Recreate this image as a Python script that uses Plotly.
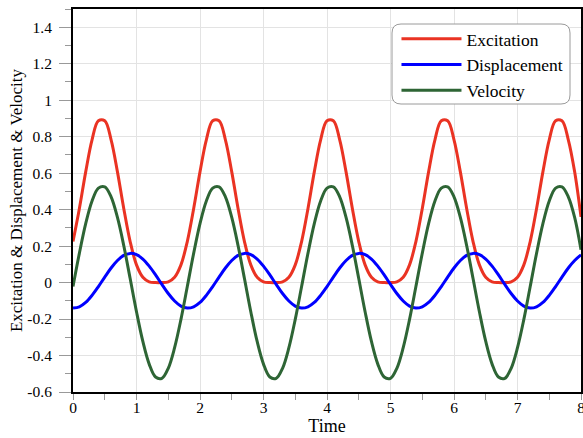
import plotly.graph_objects as go

time = [0.0, 0.1, 0.2, 0.3, 0.4, 0.5, 0.6, 0.7, 0.8, 0.9,
        1.0, 1.1, 1.2, 1.3, 1.4, 1.5, 1.6, 1.7, 1.8, 1.9,
        2.0, 2.1, 2.2, 2.3, 2.4, 2.5, 2.6, 2.7, 2.8, 2.9,
        3.0, 3.1, 3.2, 3.3, 3.4, 3.5, 3.6, 3.7, 3.8, 3.9,
        4.0, 4.1, 4.2, 4.3, 4.4, 4.5, 4.6, 4.7, 4.8, 4.9,
        5.0, 5.1, 5.2, 5.3, 5.4, 5.5, 5.6, 5.7, 5.8, 5.9,
        6.0, 6.1, 6.2, 6.3, 6.4, 6.5, 6.6, 6.7, 6.8, 6.9,
        7.0, 7.1, 7.2, 7.3, 7.4, 7.5, 7.6, 7.7, 7.8, 7.9, 8.0]

excitation = [
    0.225, 0.405, 0.607, 0.783, 0.887, 0.887, 0.783, 0.607, 0.405, 0.225, 0.097, 0.029, 0.004, 0.0, 0.0, 0.004, 0.029, 0.097,
    0.225, 0.405, 0.607, 0.783, 0.887, 0.887, 0.783, 0.607, 0.405, 0.225, 0.097, 0.029, 0.004, 0.0, 0.0, 0.004, 0.029, 0.097,
    0.225, 0.405, 0.607, 0.783, 0.887, 0.887, 0.783, 0.607, 0.405, 0.225, 0.097, 0.029, 0.004, 0.0, 0.0, 0.004, 0.029, 0.097,
    0.225, 0.405, 0.607, 0.783, 0.887, 0.887, 0.783, 0.607, 0.405, 0.225, 0.097, 0.029, 0.004, 0.0, 0.0, 0.004, 0.029, 0.097,
    0.225, 0.405, 0.607, 0.783, 0.887, 0.887, 0.783, 0.607, 0.36]

displacement = [
    -0.140, -0.133, -0.109, -0.070, -0.022, 0.030, 0.080, 0.121, 0.149, 0.160, 0.153, 0.129, 0.090, 0.042, -0.010, -0.060, -0.101, -0.129,
    -0.140, -0.133, -0.109, -0.070, -0.022, 0.030, 0.080, 0.121, 0.149, 0.160, 0.153, 0.129, 0.090, 0.042, -0.010, -0.060, -0.101, -0.129,
    -0.140, -0.133, -0.109, -0.070, -0.022, 0.030, 0.080, 0.121, 0.149, 0.160, 0.153, 0.129, 0.090, 0.042, -0.010, -0.060, -0.101, -0.129,
    -0.140, -0.133, -0.109, -0.070, -0.022, 0.030, 0.080, 0.121, 0.149, 0.160, 0.153, 0.129, 0.090, 0.042, -0.010, -0.060, -0.101, -0.129,
    -0.140, -0.133, -0.109, -0.070, -0.022, 0.030, 0.080, 0.121, 0.152]

velocity = [
    -0.022, 0.160, 0.323, 0.447, 0.518, 0.525, 0.470, 0.357, 0.202, 0.022, -0.160, -0.323, -0.447, -0.518, -0.525, -0.470, -0.357, -0.202,
    -0.022, 0.160, 0.323, 0.447, 0.518, 0.525, 0.470, 0.357, 0.202, 0.022, -0.160, -0.323, -0.447, -0.518, -0.525, -0.470, -0.357, -0.202,
    -0.022, 0.160, 0.323, 0.447, 0.518, 0.525, 0.470, 0.357, 0.202, 0.022, -0.160, -0.323, -0.447, -0.518, -0.525, -0.470, -0.357, -0.202,
    -0.022, 0.160, 0.323, 0.447, 0.518, 0.525, 0.470, 0.357, 0.202, 0.022, -0.160, -0.323, -0.447, -0.518, -0.525, -0.470, -0.357, -0.202,
    -0.022, 0.160, 0.323, 0.447, 0.518, 0.525, 0.470, 0.357, 0.18]

x_ticks = [0, 1, 2, 3, 4, 5, 6, 7, 8]
x_labels = ["0", "1", "2", "3", "4", "5", "6", "7", "8"]
y_ticks = [-0.6, -0.4, -0.2, 0, 0.2, 0.4, 0.6, 0.8, 1.0, 1.2, 1.4]
y_labels = ["-0.6", "-0.4", "-0.2", "0", "0.2", "0.4", "0.6", "0.8", "1", "1.2", "1.4"]

FONT = "Liberation Serif"

fig = go.Figure()
series = [("Excitation", excitation, "#ea3323"),
          ("Displacement", displacement, "#0000ff"),
          ("Velocity", velocity, "#2e6535")]
for name, vals, col in series:
    fig.add_trace(go.Scatter(x=time, y=vals, name=name, mode="lines",
                             line=dict(color=col, width=3, shape="spline", smoothing=1)))

# rounded legend box
W, H = 583, 438
L, R, T, B = 73, 2, 9, 46
pw, ph = W - L - R, H - T - B
bx0, bx1, by0, by1 = 392, 570, 24, 104
rad = 9
def px(xp):
    return (xp - L) / pw
def py(yp):
    return (H - B - yp) / ph
x0, x1 = px(bx0), px(bx1)
y0, y1 = py(by1), py(by0)
rx, ry = rad / pw, rad / ph
path = (f"M{x0+rx},{y1} L{x1-rx},{y1} Q{x1},{y1} {x1},{y1-ry} "
        f"L{x1},{y0+ry} Q{x1},{y0} {x1-rx},{y0} L{x0+rx},{y0} "
        f"Q{x0},{y0} {x0},{y0+ry} L{x0},{y1-ry} Q{x0},{y1} {x0+rx},{y1} Z")
fig.add_shape(type="path", path=path, xref="paper", yref="paper",
              fillcolor="white", line=dict(color="#9a9a9a", width=1), layer="above")

fig.update_layout(
    width=W, height=H,
    margin=dict(l=L, r=R, t=T, b=B),
    paper_bgcolor="white", plot_bgcolor="white",
    font=dict(family=FONT, color="black", size=16),
    showlegend=True,
    legend=dict(x=px(bx1) - 0.003, xanchor="right", y=py(by0) + 0.008, yanchor="top",
                bgcolor="rgba(0,0,0,0)", borderwidth=0,
                font=dict(family=FONT, size=17.5, color="black"), itemwidth=60, tracegroupgap=0),
)
fig.update_xaxes(
    range=[0, 8], tickvals=x_ticks, ticktext=x_labels, automargin=False,
    ticklabeloverflow="allow",
    showline=True, linecolor="black", linewidth=2, mirror=True,
    ticks="",
    minor=dict(dtick=0.5, tick0=0.5, ticks="outside", ticklen=6, tickcolor="#999999", tickwidth=1, showgrid=False),
    showgrid=True, gridcolor="#e3e3e3", gridwidth=1, zeroline=False,
    tickfont=dict(family=FONT, size=15.5, color="black"),
    title=dict(text="Time", font=dict(family=FONT, size=18, color="black"), standoff=4),
)
fig.update_yaxes(
    range=[-0.6, 1.5], tickvals=y_ticks, ticktext=y_labels, automargin=False,
    ticklabelstandoff=4,
    showline=True, linecolor="black", linewidth=2, mirror=True,
    ticks="outside", ticklen=12, tickcolor="#999999", tickwidth=1,
    minor=dict(dtick=0.1, tick0=0, ticks="outside", ticklen=6, tickcolor="#999999", tickwidth=1, showgrid=False),
    showgrid=True, gridcolor="#e3e3e3", gridwidth=1, zeroline=False,
    tickfont=dict(family=FONT, size=15.5, color="black"),
    title=dict(text="Excitation & Displacement & Velocity", font=dict(family=FONT, size=17, color="black"), standoff=0),
)

fig.write_html("out.html")
